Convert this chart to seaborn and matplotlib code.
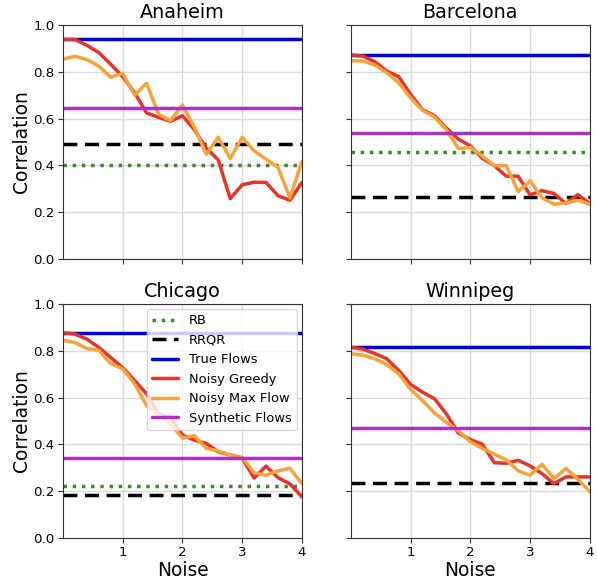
import numpy as np
import pandas as pd
import matplotlib
matplotlib.use("Agg")
import matplotlib.pyplot as plt
import seaborn as sns

noise = [round(0.2 * i, 1) for i in range(21)]
cities = ["Anaheim", "Barcelona", "Chicago", "Winnipeg"]

rb = {"Anaheim": 0.401, "Barcelona": 0.459, "Chicago": 0.221, "Winnipeg": None}
rrqr = {"Anaheim": 0.493, "Barcelona": 0.264, "Chicago": 0.183, "Winnipeg": 0.236}
true_flows = {"Anaheim": 0.938, "Barcelona": 0.872, "Chicago": 0.877, "Winnipeg": 0.815}
synthetic = {"Anaheim": 0.647, "Barcelona": 0.540, "Chicago": 0.341, "Winnipeg": 0.468}

greedy_anaheim = [0.938, 0.938, 0.913, 0.882, 0.832, 0.779, 0.710, 0.624, 0.605, 0.588, 0.612,
                  0.552, 0.473, 0.423, 0.258, 0.317, 0.328, 0.327, 0.270, 0.251, 0.327]
maxflow_anaheim = [0.854, 0.866, 0.852, 0.824, 0.776, 0.793, 0.700, 0.751, 0.619, 0.591, 0.658,
                   0.563, 0.447, 0.520, 0.429, 0.520, 0.462, 0.426, 0.391, 0.261, 0.416]
greedy_barcelona = [0.872, 0.867, 0.843, 0.803, 0.779, 0.703, 0.638, 0.612, 0.559, 0.512, 0.483,
                    0.430, 0.399, 0.354, 0.354, 0.274, 0.292, 0.280, 0.237, 0.275, 0.237]
maxflow_barcelona = [0.847, 0.846, 0.829, 0.796, 0.753, 0.688, 0.635, 0.606, 0.552, 0.472, 0.476,
                     0.440, 0.399, 0.399, 0.288, 0.334, 0.261, 0.234, 0.239, 0.251, 0.234]
greedy_chicago = [0.877, 0.871, 0.850, 0.814, 0.771, 0.728, 0.673, 0.616, 0.530, 0.516, 0.440,
                  0.418, 0.404, 0.368, 0.355, 0.342, 0.256, 0.307, 0.258, 0.231, 0.176]
maxflow_chicago = [0.845, 0.835, 0.809, 0.802, 0.745, 0.723, 0.659, 0.566, 0.526, 0.487, 0.427,
                   0.437, 0.383, 0.372, 0.355, 0.344, 0.279, 0.268, 0.287, 0.298, 0.232]
greedy_winnipeg = [0.815, 0.807, 0.788, 0.766, 0.716, 0.656, 0.623, 0.595, 0.530, 0.448, 0.420,
                   0.401, 0.322, 0.319, 0.332, 0.308, 0.275, 0.232, 0.261, 0.261, 0.261]
maxflow_winnipeg = [0.787, 0.781, 0.766, 0.741, 0.702, 0.635, 0.587, 0.534, 0.494, 0.458, 0.411,
                    0.383, 0.358, 0.334, 0.287, 0.268, 0.315, 0.254, 0.297, 0.251, 0.198]

greedy = {"Anaheim": greedy_anaheim, "Barcelona": greedy_barcelona,
          "Chicago": greedy_chicago, "Winnipeg": greedy_winnipeg}
maxflow = {"Anaheim": maxflow_anaheim, "Barcelona": maxflow_barcelona,
           "Chicago": maxflow_chicago, "Winnipeg": maxflow_winnipeg}

sns.set_style("ticks", {"axes.grid": True, "grid.color": "#d9d9d9", "axes.edgecolor": "#333333",
                        "text.color": "black", "axes.labelcolor": "black",
                        "xtick.color": "#333333", "ytick.color": "#333333"})
plt.rcParams["font.family"] = ["DejaVu Sans"]

fig, axes = plt.subplots(2, 2, figsize=(5.97, 5.80), dpi=100, sharex=True, sharey=True)
fig.subplots_adjust(left=0.1055, right=0.988, top=0.957, bottom=0.0724, wspace=0.205, hspace=0.192)

c_green = "#3a8a2a"
c_blue = "#0000ee"
c_red = "#e8332a"
c_orange = "#f5a33a"
c_purple = "#b02ec0"
lw = 2.5

for ax, city in zip(axes.flat, cities):
    if rb[city] is not None:
        ax.axhline(rb[city], color=c_green, ls=":", lw=lw, label="RB")
    ax.axhline(rrqr[city], color="black", ls=(0, (4, 2.2)), lw=lw, label="RRQR")
    ax.axhline(true_flows[city], color=c_blue, lw=lw, label="True Flows")
    df = pd.DataFrame({"noise": noise, "greedy": greedy[city], "maxflow": maxflow[city]})
    sns.lineplot(data=df, x="noise", y="greedy", ax=ax, color=c_red, lw=lw, label="Noisy Greedy")
    sns.lineplot(data=df, x="noise", y="maxflow", ax=ax, color=c_orange, lw=lw, label="Noisy Max Flow")
    ax.axhline(synthetic[city], color=c_purple, lw=lw, label="Synthetic Flows")
    ax.set_title(city, fontsize=13.8, pad=5)
    ax.set_xlim(0, 4)
    ax.set_ylim(0, 1)
    ax.set_xticks([1, 2, 3, 4])
    ax.set_yticks([0, 0.2, 0.4, 0.6, 0.8, 1.0])
    ax.tick_params(labelsize=9.6, length=3.5, color="#333333", labelcolor="black", pad=2.5)
    ax.grid(True, color="#d9d9d9", lw=1)
    ax.set_xlabel("")
    ax.set_ylabel("")
    if ax.get_legend() is not None:
        ax.get_legend().remove()

for ax in axes[:, 0]:
    ax.set_ylabel("Correlation", fontsize=13.4, labelpad=1.5)
for ax in axes[1, :]:
    ax.set_xlabel("Noise", fontsize=13.4, labelpad=1.5)

leg = axes[1, 0].legend(loc="upper right", fontsize=9.4, framealpha=0.8, borderaxespad=0.4)
for t in leg.get_texts():
    t.set_color("black")

fig.savefig("out.png", dpi=100)
